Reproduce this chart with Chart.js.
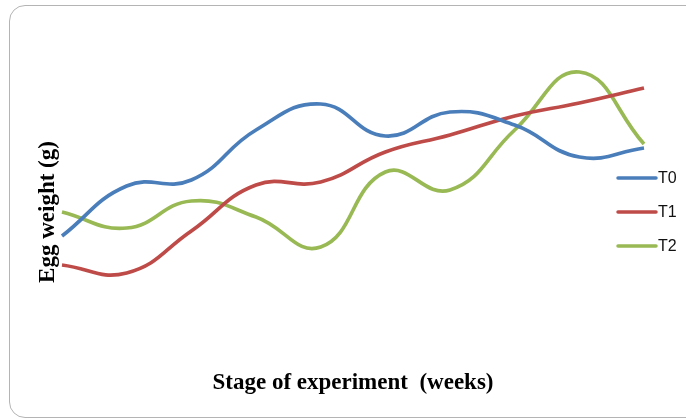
<!DOCTYPE html>
<html>
<head>
<meta charset="utf-8">
<script src="https://cdn.jsdelivr.net/npm/chart.js@4/dist/chart.umd.min.js"></script>
<style>
  html, body { margin: 0; padding: 0; background: #fff; }
  #wrap { position: relative; width: 686px; height: 419px; overflow: hidden; }
  #frame { position: absolute; left: 9px; top: 5px; width: 700px; height: 413px;
           border: 1.5px solid #b4b4b4; border-radius: 16px; box-sizing: border-box; }
  #c { position: absolute; left: 0; top: 0; }
</style>
</head>
<body>
<div id="wrap">
  <div id="frame"></div>
  <canvas id="c" width="686" height="419"></canvas>
</div>
<script>
// Categories: stage of experiment (weeks)
const weeks = ['1', '2', '3', '4', '5', '6', '7', '8', '9', '10'];
// Egg weight (g)
const T0 = [52.4, 57.4, 58.0, 63.0, 65.6, 62.4, 64.8, 63.5, 60.3, 61.2];
const T1 = [49.5, 48.7, 52.9, 57.5, 57.8, 60.8, 62.5, 64.4, 65.7, 67.2];
const T2 = [54.8, 53.2, 55.9, 54.3, 51.3, 58.8, 57.0, 63.0, 68.8, 61.6];
const seriesNames = ['T0', 'T1', 'T2'];
const seriesColors = ['#4a7ebb', '#be4b48', '#98b954'];

const legendPlugin = {
  id: 'sideLegend',
  afterDraw(chart) {
    const ctx = chart.ctx;
    ctx.save();
    chart.data.datasets.forEach((ds, i) => {
      const y = 178 + i * 34;
      ctx.strokeStyle = ds.borderColor;
      ctx.lineWidth = 3.5;
      ctx.lineCap = 'round';
      ctx.beginPath();
      ctx.moveTo(618, y);
      ctx.lineTo(656, y);
      ctx.stroke();
      ctx.fillStyle = '#111';
      ctx.font = '16px "Liberation Sans", Arial, sans-serif';
      ctx.textBaseline = 'middle';
      ctx.textAlign = 'left';
      ctx.fillText(ds.label, 658, y + 1);
    });
    ctx.restore();
  }
};

const datasets = [T0, T1, T2].map((vals, i) => ({
  label: seriesNames[i],
  data: vals,
  borderColor: seriesColors[i],
  backgroundColor: seriesColors[i],
  borderWidth: 3.7,
  pointRadius: 0,
  pointHoverRadius: 0,
  tension: 0.45,
  fill: false,
  clip: false
}));

new Chart(document.getElementById('c'), {
  type: 'line',
  data: { labels: weeks, datasets },
  options: {
    responsive: false,
    animation: false,
    devicePixelRatio: 1,
    layout: { padding: { left: 34.2, right: 42, top: 54.8, bottom: 22.2 } },
    plugins: { legend: { display: false }, tooltip: { enabled: false } },
    scales: {
      x: {
        offset: false,
        grid: { display: false, drawTicks: false },
        border: { display: false },
        ticks: { display: false },
        title: {
          display: true,
          text: 'Stage of experiment  (weeks)',
          color: '#000',
          font: { family: '"Liberation Serif", "Times New Roman", serif', size: 23, weight: 'bold' },
          padding: { top: 0, bottom: 0 }
        }
      },
      y: {
        min: 39.08,
        max: 70.52,
        grid: { display: false, drawTicks: false },
        border: { display: false },
        ticks: { display: false },
        title: {
          display: true,
          text: 'Egg weight (g)',
          color: '#000',
          font: { family: '"Liberation Serif", "Times New Roman", serif', size: 23, weight: 'bold' },
          padding: { top: 0, bottom: 0.2 }
        }
      }
    }
  },
  plugins: [legendPlugin]
});
</script>
</body>
</html>
